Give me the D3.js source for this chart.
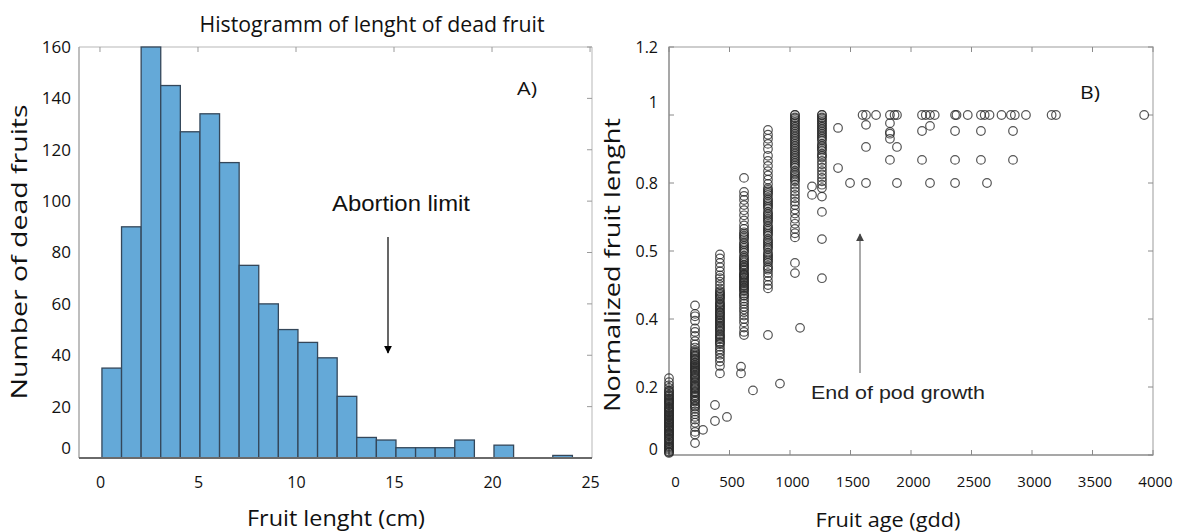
<!DOCTYPE html>
<html>
<head>
<meta charset="utf-8">
<script src="https://cdn.jsdelivr.net/npm/d3@7/dist/d3.min.js"></script>
<style>
  body { margin: 0; background: #fff; }
  svg { display: block; }
</style>
</head>
<body>
<div id="chart"></div>
<script>
// ---- panel A : histogram of dead fruit length ----
var binStarts = [0.1, 1.1, 2.1, 3.1, 4.1, 5.1, 6.1, 7.1, 8.1, 9.1, 10.1, 11.1,
                 12.1, 13.1, 14.1, 15.1, 16.1, 17.1, 18.1, 19.1, 20.1, 21.1, 22.1, 23.1];
var binCounts = [35, 90, 160, 145, 127, 134, 115, 75, 60, 50, 45, 39,
                 24, 8, 7, 4, 4, 4, 7, 0, 5, 0, 0, 1];
var histXTicks = [0, 5, 10, 15, 20, 25];
var histYTicks = [0, 20, 40, 60, 80, 100, 120, 140, 160];

// ---- panel B : normalized length vs fruit age ----
// dense columns (one sampling date each)
var columnAges = [0, 215, 421, 620, 818, 1041, 1264];
var columnLengths = [
  [0.006, 0.01, 0.015, 0.021, 0.026, 0.03, 0.036, 0.041, 0.045, 0.05, 0.055, 0.061, 0.066, 0.07,
   0.075, 0.081, 0.086, 0.09, 0.095, 0.101, 0.106, 0.11, 0.116, 0.121, 0.125, 0.13, 0.136, 0.141,
   0.146, 0.15, 0.156, 0.161, 0.167, 0.172, 0.178, 0.184, 0.19, 0.197, 0.205, 0.214, 0.226,
   0.018, 0.047, 0.078, 0.098, 0.113, 0.133, 0.158, 0.008, 0.024, 0.033, 0.058, 0.063, 0.072,
   0.084, 0.093, 0.104, 0.118, 0.127, 0.139, 0.153, 0.165, 0.175, 0.187],
  [0.035, 0.06, 0.068, 0.082, 0.095, 0.104, 0.112, 0.12, 0.128, 0.136, 0.142, 0.15, 0.157, 0.163,
   0.17, 0.176, 0.182, 0.188, 0.194, 0.2, 0.206, 0.212, 0.218, 0.224, 0.23, 0.236, 0.242, 0.248,
   0.254, 0.26, 0.266, 0.272, 0.278, 0.285, 0.292, 0.3, 0.308, 0.316, 0.325, 0.335, 0.35, 0.362,
   0.372, 0.395, 0.408, 0.415, 0.44, 0.185, 0.215, 0.245, 0.27, 0.29, 0.197, 0.203, 0.227,
   0.233, 0.251, 0.257, 0.263, 0.281, 0.296, 0.304, 0.145, 0.16, 0.173],
  [0.24, 0.262, 0.275, 0.285, 0.295, 0.303, 0.31, 0.318, 0.326, 0.333, 0.34, 0.348, 0.355, 0.362,
   0.37, 0.378, 0.386, 0.394, 0.402, 0.41, 0.418, 0.426, 0.434, 0.442, 0.45, 0.458, 0.466, 0.474,
   0.482, 0.49, 0.5, 0.51, 0.52, 0.528, 0.54, 0.552, 0.565, 0.578, 0.59, 0.33, 0.39, 0.42, 0.47,
   0.344, 0.352, 0.366, 0.374, 0.381, 0.398, 0.405, 0.414, 0.43, 0.438, 0.446, 0.462, 0.478],
  [0.353, 0.362, 0.375, 0.39, 0.4, 0.41, 0.42, 0.428, 0.436, 0.445, 0.452, 0.46, 0.468, 0.475,
   0.482, 0.49, 0.497, 0.505, 0.512, 0.52, 0.527, 0.535, 0.542, 0.55, 0.558, 0.566, 0.575, 0.585,
   0.595, 0.605, 0.615, 0.625, 0.635, 0.645, 0.655, 0.665, 0.675, 0.69, 0.705, 0.72, 0.735, 0.75,
   0.762, 0.774, 0.815, 0.47, 0.5, 0.53, 0.56, 0.6, 0.64, 0.486, 0.493, 0.508, 0.516, 0.523,
   0.531, 0.546, 0.554, 0.57, 0.58, 0.61, 0.62, 0.65],
  [0.353, 0.49, 0.5, 0.512, 0.525, 0.535, 0.545, 0.555, 0.565, 0.575, 0.585, 0.595, 0.605, 0.615,
   0.625, 0.635, 0.645, 0.655, 0.665, 0.675, 0.685, 0.695, 0.705, 0.715, 0.725, 0.735, 0.745, 0.755,
   0.765, 0.775, 0.785, 0.797, 0.81, 0.822, 0.835, 0.85, 0.865, 0.88, 0.9, 0.915, 0.93, 0.942, 0.956,
   0.58, 0.62, 0.66, 0.7, 0.74, 0.78, 0.55, 0.57, 0.59, 0.61, 0.63, 0.65, 0.67, 0.69, 0.71, 0.73,
   0.75, 0.77],
  [0.535, 0.565, 0.64, 0.652, 0.665, 0.68, 0.695, 0.71, 0.722, 0.735, 0.745, 0.755, 0.765, 0.775,
   0.785, 0.795, 0.805, 0.815, 0.825, 0.835, 0.845, 0.855, 0.865, 0.875, 0.885, 0.895, 0.905, 0.915,
   0.925, 0.935, 0.945, 0.955, 0.965, 0.975, 0.985, 0.993, 1.0, 0.86, 0.88, 0.9, 0.92, 0.94, 0.96,
   0.98, 1.0, 0.82, 0.85, 0.87, 0.89, 0.91, 0.93, 0.95, 0.97, 0.99, 0.83, 0.81],
  [0.52, 0.635, 0.715, 0.76, 0.785, 0.795, 0.805, 0.815, 0.825, 0.835, 0.845, 0.855, 0.865, 0.875,
   0.885, 0.895, 0.905, 0.915, 0.925, 0.935, 0.945, 0.955, 0.965, 0.975, 0.985, 0.993, 1.0,
   0.9, 0.94, 0.97, 1.0, 0.96, 0.99, 0.91, 0.93, 0.95, 0.98, 0.88]
];
// scattered single fruits
var looseAges = [281, 380, 380, 479, 595, 595, 694, 917, 1083, 1182, 1182,
  1397, 1397, 1496, 1628, 1628, 1628,
  1600, 1628, 1711, 1826, 1864, 1884, 2091, 2122, 2157, 2196, 2364, 2376, 2469,
  2578, 2609, 2649, 2748, 2826, 2858, 2950, 3162, 3198, 3927,
  1826, 1826, 1826, 1826, 1884, 1826, 1884,
  2091, 2157, 2091, 2157, 2364, 2364, 2364, 2578, 2578, 2628, 2843, 2843];
var looseLengths = [0.074, 0.147, 0.1, 0.112, 0.26, 0.24, 0.19, 0.21, 0.374, 0.79, 0.765,
  0.962, 0.844, 0.8, 0.8, 0.971, 0.906,
  1, 1, 1, 1, 1, 1, 1, 1, 1, 1, 1, 1, 1,
  1, 1, 1, 1, 1, 1, 1, 1, 1, 1,
  0.976, 0.95, 0.945, 0.93, 0.906, 0.868, 0.8,
  0.953, 0.968, 0.868, 0.8, 0.953, 0.868, 0.8, 0.953, 0.868, 0.8, 0.953, 0.868];
var ageTicks = [0, 500, 1000, 1500, 2000, 2500, 3000, 3500, 4000];
var lengthTicks = [0, 0.2, 0.4, 0.6, 0.8, 1, 1.2];
var lengthTickLabels = ["0", "0.2", "0.4", "0.5", "0.8", "1", "1.2"];

var W = 1178, H = 532;
var svg = d3.select("#chart").append("svg")
    .attr("width", W)
    .attr("height", H);

var labelFont = "'Open Sans', 'Noto Sans', sans-serif";
var arrowFont = "'Liberation Sans', Arial, sans-serif";

svg.append("defs").selectAll("marker")
    .data([["headA", "#000"], ["headB", "#444"]])
    .enter().append("marker")
    .attr("id", function (d) { return d[0]; })
    .attr("viewBox", "0 0 10 10")
    .attr("refX", 9).attr("refY", 5)
    .attr("markerWidth", 8).attr("markerHeight", 8)
    .attr("markerUnits", "userSpaceOnUse")
    .attr("orient", "auto")
    .append("path")
    .attr("d", "M0,0 L10,5 L0,10 z")
    .attr("fill", function (d) { return d[1]; });

//helper for the big labels, stretched to the width seen in the picture
function label(x, y, size, len, txt, rot, font) {
    var t = svg.append("text")
        .attr("text-anchor", "middle")
        .attr("font-family", font || labelFont)
        .attr("font-size", size)
        .attr("fill", "#111")
        .text(txt);
    if (rot) t.attr("transform", "translate(" + x + "," + y + ") rotate(-90)");
    else t.attr("x", x).attr("y", y);
    if (len) t.attr("textLength", len).attr("lengthAdjust", "spacingAndGlyphs");
    return t;
}

// ================= panel A =================
var xA = d3.scaleLinear().domain([-1.07, 25.1]).range([79, 592]);
var yA = d3.scaleLinear().domain([0, 160]).range([458, 47]);
var gA = svg.append("g");

//frame: light top/right, grey left, dark bottom
gA.append("line").attr("x1", 79).attr("x2", 592).attr("y1", 47).attr("y2", 47)
    .attr("stroke", "#cfcfcf").attr("stroke-width", 1.5);
gA.append("line").attr("x1", 592).attr("x2", 592).attr("y1", 47).attr("y2", 458)
    .attr("stroke", "#cfcfcf").attr("stroke-width", 1.5);
gA.append("line").attr("x1", 79).attr("x2", 79).attr("y1", 47).attr("y2", 458)
    .attr("stroke", "#a8a8a8").attr("stroke-width", 1.5);

gA.selectAll(".ttick").data(histXTicks).enter().append("line")
    .attr("x1", function (d) { return xA(d); }).attr("x2", function (d) { return xA(d); })
    .attr("y1", 47).attr("y2", 52)
    .attr("stroke", "#9a9a9a");
gA.selectAll(".rtick").data(histYTicks).enter().append("line")
    .attr("x1", 592).attr("x2", 587)
    .attr("y1", function (d) { return yA(d); }).attr("y2", function (d) { return yA(d); })
    .attr("stroke", "#9a9a9a");

var bins = binStarts.map(function (s, i) { return { x0: s, x1: s + 1, n: binCounts[i] }; })
    .filter(function (b) { return b.n > 0; });

gA.selectAll(".bar").data(bins).enter().append("rect")
    .attr("class", "bar")
    .attr("x", function (d) { return xA(d.x0); })
    .attr("width", function (d) { return xA(d.x1) - xA(d.x0); })
    .attr("y", function (d) { return yA(d.n); })
    .attr("height", function (d) { return yA(0) - yA(d.n); })
    .attr("fill", "#64a9d8")
    .attr("stroke", "#34475a")
    .attr("stroke-width", 1.3);

gA.append("line").attr("x1", 79).attr("x2", 592).attr("y1", 458).attr("y2", 458)
    .attr("stroke", "#6a6a6a").attr("stroke-width", 2);

var axAy = gA.append("g").attr("transform", "translate(79,0)")
    .call(d3.axisLeft(yA).tickValues(histYTicks).tickSize(0).tickPadding(8));
axAy.select(".domain").remove();
axAy.selectAll("text").attr("font-family", labelFont).attr("font-size", 17).attr("fill", "#111")
    .attr("dy", function (d) { return d === 0 ? "-0.25em" : "0.32em"; });

var axAx = gA.append("g").attr("transform", "translate(0,458)")
    .call(d3.axisBottom(xA).tickValues(histXTicks).tickSize(0).tickPadding(19));
axAx.select(".domain").remove();
axAx.selectAll("text").attr("font-family", labelFont).attr("font-size", 16).attr("fill", "#111");

label(372, 32, 21, 345, "Histogramm of lenght of dead fruit");
label(27, 252, 21, 295, "Number of dead fruits", true);
label(336, 526, 21, 178, "Fruit lenght (cm)");
label(527, 95, 19, 20, "A)");
label(401, 211, 22, 138, "Abortion limit", false, arrowFont);
svg.append("line").attr("x1", 388).attr("x2", 388).attr("y1", 237).attr("y2", 353)
    .attr("stroke", "#000").attr("stroke-width", 1.2)
    .attr("marker-end", "url(#headA)");

// ================= panel B =================
var xB = d3.scaleLinear().domain([0, 4000]).range([669, 1153]);
var yB = d3.scaleLinear().domain([0, 1.2]).range([455, 47]);
var gB = svg.append("g");

gB.append("rect").attr("x", 669).attr("y", 47).attr("width", 1153 - 669).attr("height", 455 - 47)
    .attr("fill", "none").attr("stroke", "#bdbdbd").attr("stroke-width", 1.5);
gB.append("line").attr("x1", 669).attr("x2", 669).attr("y1", 47).attr("y2", 456)
    .attr("stroke", "#9a9a9a").attr("stroke-width", 1.5);
gB.append("line").attr("x1", 669).attr("x2", 1153).attr("y1", 455).attr("y2", 455)
    .attr("stroke", "#9a9a9a").attr("stroke-width", 1.5);

gB.selectAll(".xt").data(ageTicks).enter().append("g")
    .each(function (d) {
        var g = d3.select(this), x = xB(d);
        g.append("line").attr("x1", x).attr("x2", x).attr("y1", 455).attr("y2", 450).attr("stroke", "#8a8a8a");
        g.append("line").attr("x1", x).attr("x2", x).attr("y1", 47).attr("y2", 52).attr("stroke", "#8a8a8a");
    });
gB.selectAll(".yt").data(lengthTicks).enter().append("g")
    .each(function (d) {
        var g = d3.select(this), y = yB(d);
        g.append("line").attr("x1", 669).attr("x2", 674).attr("y1", y).attr("y2", y).attr("stroke", "#8a8a8a");
        g.append("line").attr("x1", 1153).attr("x2", 1148).attr("y1", y).attr("y2", y).attr("stroke", "#8a8a8a");
    });

var pts = [];
columnAges.forEach(function (a, i) {
    columnLengths[i].forEach(function (v) { pts.push([a, v]); });
});
looseAges.forEach(function (a, i) { pts.push([a, looseLengths[i]]); });

gB.selectAll(".pt").data(pts).enter().append("circle")
    .attr("cx", function (d) { return xB(d[0]); })
    .attr("cy", function (d) { return yB(d[1]); })
    .attr("r", 4.3)
    .attr("fill", "none")
    .attr("stroke", "#2a2a2a")
    .attr("stroke-opacity", 0.8)
    .attr("stroke-width", 1.2);

var axBy = gB.append("g").attr("transform", "translate(669,0)")
    .call(d3.axisLeft(yB).tickValues(lengthTicks).tickSize(0).tickPadding(11)
        .tickFormat(function (d, i) { return lengthTickLabels[i]; }));
axBy.select(".domain").remove();
axBy.selectAll("text").attr("font-family", labelFont).attr("font-size", 16).attr("fill", "#111")
    .attr("dy", function (d) { return d === 1 ? "-0.45em" : (d === 0 ? "-0.05em" : "0.32em"); });

var axBx = gB.append("g").attr("transform", "translate(0,455)")
    .call(d3.axisBottom(xB).tickValues(ageTicks).tickSize(0).tickPadding(21)
        .tickFormat(d3.format("d")));
axBx.select(".domain").remove();
axBx.selectAll("text").attr("font-family", labelFont).attr("font-size", 15).attr("fill", "#111")
    .attr("dx", function (d) { return d === 0 ? 6 : 2; });

label(620, 265, 21, 294, "Normalized fruit lenght", true);
label(888, 527, 20, 145, "Fruit age (gdd)");
label(1090, 99, 19, 20, "B)");
label(898, 399, 18, 174, "End of pod growth", false, arrowFont).attr("fill", "#222");
svg.append("line").attr("x1", 860).attr("x2", 860).attr("y1", 373).attr("y2", 234)
    .attr("stroke", "#555").attr("stroke-width", 1)
    .attr("marker-end", "url(#headB)");
</script>
</body>
</html>
